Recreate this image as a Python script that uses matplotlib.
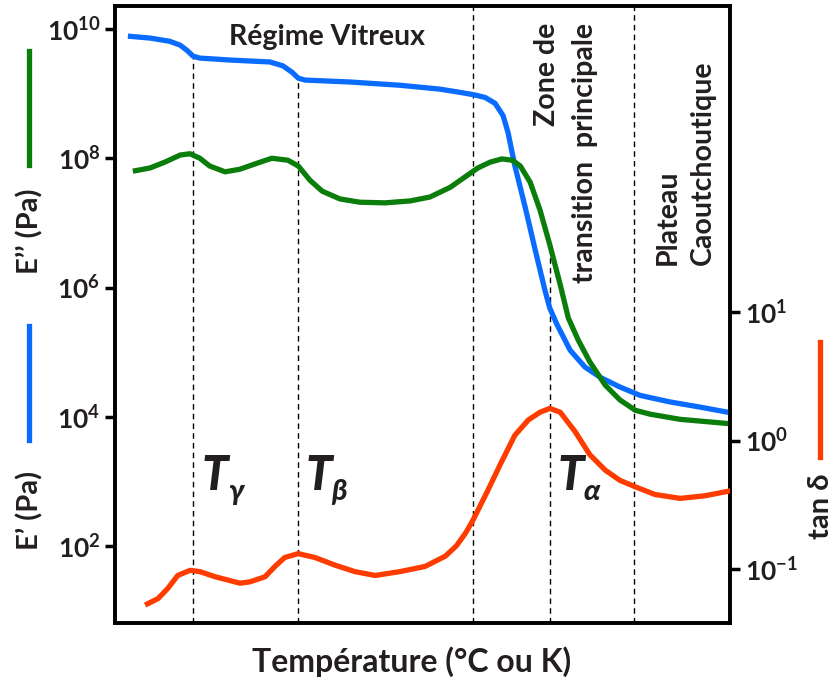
import numpy as np
import matplotlib.pyplot as plt
from matplotlib.lines import Line2D

plt.rcParams['font.family'] = ['Lato', 'DejaVu Sans']
plt.rcParams['font.weight'] = 'bold'
plt.rcParams['mathtext.fontset'] = 'custom'
plt.rcParams['mathtext.rm'] = 'Lato:bold'
plt.rcParams['mathtext.it'] = 'Lato:bold:italic'
plt.rcParams['mathtext.bf'] = 'Lato:bold'

# temperature in arbitrary units (0..100), moduli as log10(Pa)
T_e1 = [2.1, 5.7, 8.9, 10.6, 11.7, 12.7, 13.8, 18.7, 25.2, 27.3, 28.8, 29.8, 30.9,
        38.2, 46.3, 52.8, 56.1, 58.5, 60.2, 61.8, 63.1, 63.9, 65.0, 66.7, 68.3,
        69.9, 70.7, 71.9, 74.0, 76.4, 78.9, 82.1, 85.4, 90.2, 95.1, 100.2]
log_e1 = [9.89, 9.86, 9.81, 9.75, 9.67, 9.58, 9.55, 9.52, 9.49, 9.43, 9.33, 9.24, 9.21,
          9.18, 9.13, 9.07, 9.02, 8.98, 8.94, 8.85, 8.66, 8.40, 7.89, 7.24, 6.59,
          5.96, 5.68, 5.42, 5.03, 4.77, 4.61, 4.46, 4.33, 4.23, 4.15, 4.06]

T_e2 = [2.9, 5.7, 8.1, 10.6, 12.2, 13.8, 15.4, 17.9, 20.3, 23.3, 25.5, 28.1, 29.8,
        31.7, 33.7, 36.6, 39.8, 43.9, 48.0, 51.2, 54.5, 56.9, 59.0, 61.0, 62.9,
        64.6, 65.9, 67.5, 69.1, 70.7, 72.4, 73.7, 75.3, 77.2, 79.7, 82.1, 84.6,
        87.0, 91.9, 96.7, 100.2]
log_e2 = [7.80, 7.85, 7.94, 8.05, 8.07, 8.00, 7.88, 7.79, 7.83, 7.93, 8.00, 7.97, 7.88,
          7.66, 7.49, 7.37, 7.32, 7.31, 7.34, 7.40, 7.55, 7.71, 7.85, 7.94, 7.99,
          7.97, 7.88, 7.63, 7.20, 6.66, 6.04, 5.53, 5.19, 4.85, 4.49, 4.26, 4.10,
          4.04, 3.96, 3.92, 3.89]

T_tan = [4.9, 7.0, 8.6, 10.2, 12.2, 13.8, 16.3, 18.7, 20.3, 21.9, 24.4, 26.0, 27.6,
         29.8, 32.5, 35.8, 39.0, 42.3, 46.3, 50.4, 53.7, 55.5, 57.0, 58.2, 60.5,
         62.6, 65.0, 67.2, 69.1, 70.7, 72.4, 74.8, 77.2, 79.7, 82.1, 84.6, 87.8,
         91.9, 95.9, 100.2]
log_tan = [-1.28, -1.23, -1.15, -1.05, -1.01, -1.02, -1.06, -1.09, -1.11, -1.10, -1.06,
           -0.98, -0.91, -0.88, -0.91, -0.97, -1.02, -1.05, -1.02, -0.98, -0.90, -0.82,
           -0.72, -0.62, -0.40, -0.19, 0.04, 0.16, 0.22, 0.25, 0.22, 0.07, -0.11,
           -0.23, -0.31, -0.36, -0.42, -0.45, -0.43, -0.39]

transitions = [12.7, 29.8, 58.2, 70.7, 84.4]

blue = '#0a6cff'
green = '#0b7d0b'
red = '#ff3c00'
ink = '#231f20'

fig = plt.figure(figsize=(8.35, 6.83), dpi=100)
ax = fig.add_axes([0.1377, 0.0878, 0.7366, 0.9034])
ax2 = ax.twinx()

ax.plot(T_e1, 10 ** np.array(log_e1), color=blue, lw=3.8, solid_joinstyle='round',
        solid_capstyle='butt', zorder=3)
ax.plot(T_e2, 10 ** np.array(log_e2), color=green, lw=3.8, solid_joinstyle='round',
        solid_capstyle='butt', zorder=3)
ax2.plot(T_tan, 10 ** np.array(log_tan), color=red, lw=3.8, solid_joinstyle='round',
         solid_capstyle='butt', zorder=3)

ax.set_yscale('log')
ax2.set_yscale('log')
ax.set_xlim(0, 100)
ax.set_ylim(10 ** 0.808, 10 ** 10.356)
ax2.set_ylim(10 ** -1.42, 10 ** 3.381)

# dashed markers; the first ones stop at the curves
tops = [10 ** np.interp(transitions[0], T_e1, log_e1),
        10 ** np.interp(transitions[1], T_e1, log_e1),
        10 ** 10.356,
        10 ** np.interp(transitions[3], T_e2, log_e2),
        10 ** 10.356]
for x, top in zip(transitions, tops):
    ax.vlines(x, 10 ** 0.808, top, colors='black', linestyles=(0, (4, 3)), lw=1, zorder=1)

ax.set_xticks([])
ax.set_yticks([1e2, 1e4, 1e6, 1e8, 1e10])
ax.set_yticklabels([r'$10^{2}$', r'$10^{4}$', r'$10^{6}$', r'$10^{8}$', r'$10^{10}$'])
ax.minorticks_off()
ax2.set_yticks([0.1, 1, 10])
ax2.set_yticklabels([r'$10^{-1}$', r'$10^{0}$', r'$10^{1}$'])
ax2.minorticks_off()
for a in (ax, ax2):
    a.tick_params(axis='y', labelsize=19, length=7, width=2.5, colors='black',
                  labelcolor=ink)
    for s in a.spines.values():
        s.set_linewidth(2.6)

fig.text(412 / 835, 1 - 662 / 683, 'Température (°C ou K)', ha='center', va='center',
         fontsize=23, fontweight='bold', color=ink)

txt = dict(fontsize=20.5, fontweight='bold', color=ink)
ax.text(34.5, 10 ** 9.88, 'Régime Vitreux', ha='center', va='center', **txt)
ax.text(70.3, 10 ** 10.09, 'Zone de', rotation=90, ha='center', va='top', **txt)
ax.text(76.4, 10 ** 10.09, 'transition  principale', rotation=90, ha='center', va='top', **txt)
ax.text(89.8, 10 ** 6.35, 'Plateau', rotation=90, ha='center', va='bottom', **txt)
ax.text(95.6, 10 ** 6.35, 'Caoutchoutique', rotation=90, ha='center', va='bottom', **txt)

# transition temperature labels
for x, sub in [(14.1, 'γ'), (30.9, 'β'), (71.9, 'α')]:
    ax.text(x, 10 ** 3.08, 'T', fontsize=34, fontweight='black', style='italic',
            color=ink, ha='left', va='center')
    ax.text(x + 4.3, 10 ** 2.83, sub, fontsize=21, fontweight='black', style='italic',
            color=ink, ha='left', va='center', family=['Lato', 'DejaVu Sans'])

# axis titles with colour keys
fig.text(0.036, 1 - 231 / 683, 'E’’ (Pa)', rotation=90, ha='center', va='center',
         fontsize=21, fontweight='bold', color=ink)
fig.text(0.036, 1 - 510 / 683, 'E’ (Pa)', rotation=90, ha='center', va='center',
         fontsize=21, fontweight='bold', color=ink)
fig.text(0.983, 1 - 506 / 683, 'tan δ', rotation=90, ha='center', va='center',
         fontsize=21, fontweight='bold', color=ink)
fig.add_artist(Line2D([0.035, 0.035], [1 - 51 / 683, 1 - 165 / 683], color=green, lw=3.8))
fig.add_artist(Line2D([0.035, 0.035], [1 - 326 / 683, 1 - 440 / 683], color=blue, lw=3.8))
fig.add_artist(Line2D([0.982, 0.982], [1 - 342 / 683, 1 - 457 / 683], color=red, lw=3.8))

fig.savefig('out.png', dpi=100)
